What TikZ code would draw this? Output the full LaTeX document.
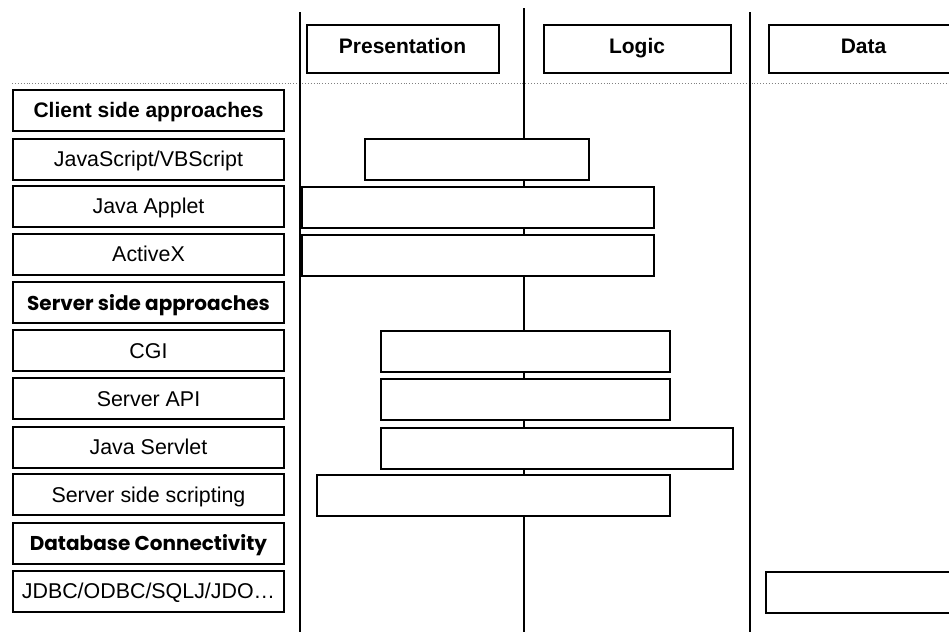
\documentclass[tikz,border=0pt]{standalone}
\usepackage{fontspec}
\setmainfont{Liberation Sans}
\newfontfamily\geofont{Poppins}
\begin{document}
\begin{tikzpicture}[x=1pt,y=-1pt,
  rowbox/.style={draw, line width=2pt, fill=white, minimum width=271pt,
    minimum height=41pt, inner sep=0pt, text height=15pt, text depth=0pt,
    font=\fontsize{21.4}{24}\selectfont},
  headrow/.style={rowbox, font=\fontsize{21}{24}\selectfont\bfseries},
  georow/.style={rowbox, font=\fontsize{20}{24}\selectfont\geofont\bfseries},
  tierbox/.style={draw, line width=2pt, fill=white, minimum height=48pt,
    inner sep=0pt, text height=15pt, text depth=5pt,
    font=\fontsize{21}{24}\selectfont\bfseries},
  bar/.style={draw, line width=2pt, fill=white, minimum height=41pt,
    inner sep=0pt, anchor=north west},
  tierline/.style={line width=2pt},
  sepline/.style={gray, dotted, line width=0.9pt}]
\useasboundingbox (0,0) rectangle (949,632);
\clip (0,0) rectangle (949,632);

% separator under the tier headings
\coordinate (sepL) at (12,83);
\coordinate (sepR) at (949,83);
\draw[sepline] (sepL) -- (sepR);

% tier boundaries
\coordinate (l1t) at (300,12);  \coordinate (l1b) at (300,632);
\coordinate (l2t) at (524,8);   \coordinate (l2b) at (524,632);
\coordinate (l3t) at (750,12);  \coordinate (l3b) at (750,632);
\draw[tierline] (l1t) -- (l1b);
\draw[tierline] (l2t) -- (l2b);
\draw[tierline] (l3t) -- (l3b);

% tier headings
\node[tierbox, minimum width=192pt] (pres) at (402.5,48.5) {Presentation};
\node[tierbox, minimum width=187pt] (logic) at (637,48.5) {Logic};
\node[tierbox, minimum width=200pt, anchor=west] (data) at (768,48.5) {};
\node[tierbox, draw=none, fill=none] (datat) at (863.5,48.5) {Data};

% coverage bars
\node[bar, minimum width=224pt] (bjs)   at (364,138) {};
\node[bar, minimum width=352pt] (bapp)  at (301,186) {};
\node[bar, minimum width=352pt] (bax)   at (301,234) {};
\node[bar, minimum width=289pt] (bcgi)  at (380,330) {};
\node[bar, minimum width=289pt] (bapi)  at (380,378) {};
\node[bar, minimum width=352pt] (bserv) at (380,427) {};
\node[bar, minimum width=353pt] (bssc)  at (316,474) {};
\node[bar, minimum width=200pt] (bjdbc) at (765,571) {};

% approaches
\node[headrow] (client) at (148.5,110) {Client side approaches};
\node[rowbox]  (js)     at (148.5,159) {JavaScript/VBScript};
\node[rowbox]  (applet) at (148.5,206) {Java Applet};
\node[rowbox]  (activex) at (148.5,254) {ActiveX};
\node[georow]  (server) at (148.5,302.5) {Server side approaches};
\node[rowbox]  (cgi)    at (148.5,350.5) {CGI};
\node[rowbox]  (api)    at (148.5,398.5) {Server API};
\node[rowbox]  (servlet) at (148.5,447) {Java Servlet};
\node[rowbox]  (ssc)    at (148.5,494.5) {Server side scripting};
\node[georow]  (db)     at (148.5,543) {Database Connectivity};
\node[rowbox]  (jdbc)   at (148.5,591) {JDBC/ODBC/SQLJ/JDO…};
\end{tikzpicture}
\end{document}
